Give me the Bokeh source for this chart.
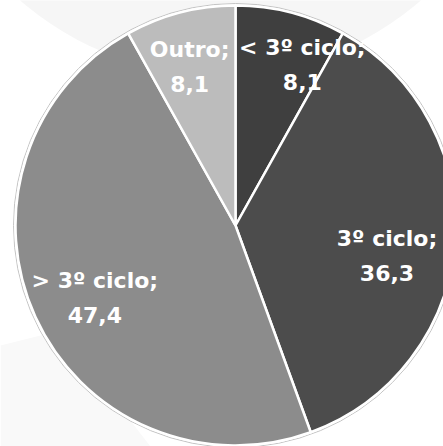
import math
from bokeh.plotting import figure
from bokeh.models import Range1d, ColumnDataSource
from bokeh.core.properties import value
from bokeh.embed import file_html
from bokeh.resources import INLINE

# ---- data ----
categories = ["< 3º ciclo", "3º ciclo", "> 3º ciclo", "Outro"]
values = [8.1, 36.3, 47.4, 8.1]
value_labels = ["8,1", "36,3", "47,4", "8,1"]
colors = ["#3f3f3f", "#4c4c4c", "#8c8c8c", "#bcbcbc"]

# ---- layout (pixels) ----
W, H = 443, 446
CX, CY, R = 235, H - 225, 220
label_r = 158
nudge_x = [27, -6, 3, -6]
nudge_y = [8, -18, -7, 6]

p = figure(width=W, height=H, output_backend="svg", toolbar_location=None,
           x_range=Range1d(0, W), y_range=Range1d(0, H), min_border=0)
p.axis.visible = False
p.grid.visible = False
p.outline_line_color = None
p.background_fill_color = "white"
p.border_fill_color = "white"

# faint decorative background shapes
p.circle(x=[220], y=[H + 230], radius=305, fill_color="#f6f6f6", line_color=None)
p.patch(x=[0, 0, 150, 60], y=[H - 345, 0, 0, H - 330], fill_color="#f9f9f9", line_color=None)

total = sum(values)
starts, ends, lx, ly = [], [], [], []
cum = 0.0
for i, v in enumerate(values):
    a0 = math.pi / 2 - cum / total * 2 * math.pi
    cum += v
    a1 = math.pi / 2 - cum / total * 2 * math.pi
    starts.append(a0)
    ends.append(a1)
    mid = (a0 + a1) / 2
    lx.append(CX + label_r * math.cos(mid) + nudge_x[i])
    ly.append(CY + label_r * math.sin(mid) + nudge_y[i])

texts = [f"{c};\n{v}" for c, v in zip(categories, value_labels)]
src = ColumnDataSource(dict(start=starts, end=ends, color=colors, x=lx, y=ly, text=texts))

# thin outer ring
p.circle(x=[CX], y=[CY], radius=R + 2, fill_color=None, line_color="#c4c4c4", line_width=1)
p.wedge(x=CX, y=CY, radius=R, start_angle="start", end_angle="end", direction="clock",
        fill_color="color", line_color="white", line_width=2.5, source=src)

p.text(x="x", y="y", text="text", source=src, text_color="white",
       text_font=value("DejaVu Sans"), text_font_style="bold", text_font_size="22px",
       text_align="center", text_baseline="middle", text_line_height=1.4)

open("out.html", "w").write(file_html(p, INLINE))
